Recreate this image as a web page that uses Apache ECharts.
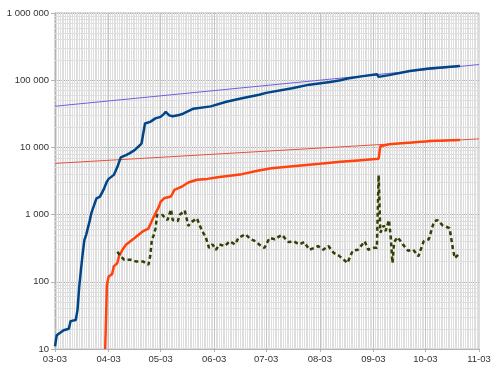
<!DOCTYPE html>
<html><head><meta charset="utf-8">
<script src="https://cdn.jsdelivr.net/npm/echarts@6/dist/echarts.min.js"></script>
<style>html,body{margin:0;padding:0;background:#fff}#c{width:500px;height:374px}</style>
</head><body><div id="c"></div>
<script>
// x-axis tick labels (month ticks)
const tickDates = ['2020-03-03','2020-04-03','2020-05-03','2020-06-03','2020-07-03','2020-08-03','2020-09-03','2020-10-03','2020-11-03'];
const yTicks = [10, 100, 1000, 10000, 100000, 1000000];

// cumulative (blue)
const blueDates = ['2020-03-03','2020-03-04','2020-03-05','2020-03-08','2020-03-11','2020-03-12','2020-03-15','2020-03-16','2020-03-17','2020-03-18','2020-03-19','2020-03-20','2020-03-21','2020-03-22','2020-03-23','2020-03-24','2020-03-25','2020-03-27','2020-03-29','2020-03-31','2020-04-02','2020-04-03','2020-04-06','2020-04-08','2020-04-10','2020-04-13','2020-04-15','2020-04-18','2020-04-22','2020-04-23','2020-04-24','2020-04-27','2020-04-30','2020-05-03','2020-05-05','2020-05-06','2020-05-08','2020-05-10','2020-05-13','2020-05-16','2020-05-22','2020-06-01','2020-06-10','2020-06-19','2020-06-29','2020-07-03','2020-07-18','2020-07-28','2020-08-09','2020-08-15','2020-08-19','2020-08-28','2020-09-05','2020-09-06','2020-09-12','2020-09-24','2020-10-05','2020-10-23'];
const blueValues = [11,16,17,19,20,26,27,38,85,150,265,420,500,530,800,1050,1250,1750,1850,2330,3100,3400,3900,5100,7100,7700,8150,9100,11400,11600,22700,24000,27000,28500,31500,33800,30000,29000,30000,31700,37600,40800,47700,53900,60900,64800,76000,85900,94000,100000,106000,115000,123000,112000,119000,137000,149000,163000];

// cumulative (red)
const redDates = ['2020-04-01','2020-04-02','2020-04-03','2020-04-05','2020-04-06','2020-04-08','2020-04-09','2020-04-11','2020-04-13','2020-04-18','2020-04-23','2020-04-26','2020-04-27','2020-04-29','2020-04-30','2020-05-02','2020-05-03','2020-05-05','2020-05-09','2020-05-11','2020-05-15','2020-05-19','2020-05-24','2020-05-30','2020-06-05','2020-06-19','2020-06-28','2020-07-06','2020-07-20','2020-08-03','2020-08-15','2020-08-25','2020-09-04','2020-09-06','2020-09-07','2020-09-12','2020-09-25','2020-10-05','2020-10-23'];
const redValues = [10,90,120,130,170,190,240,300,357,450,570,620,640,920,975,1300,1550,1750,1860,2330,2580,3000,3300,3400,3600,4000,4500,4900,5300,5700,6100,6400,6700,6800,10400,11100,11800,12400,12900];

// daily (dashed)
const dailyDates = ['2020-04-08','2020-04-10','2020-04-12','2020-04-16','2020-04-19','2020-04-23','2020-04-26','2020-04-27','2020-04-28','2020-04-29','2020-04-30','2020-05-01','2020-05-04','2020-05-07','2020-05-09','2020-05-10','2020-05-13','2020-05-14','2020-05-17','2020-05-19','2020-05-21','2020-05-24','2020-05-27','2020-05-29','2020-05-31','2020-06-02','2020-06-04','2020-06-06','2020-06-09','2020-06-12','2020-06-15','2020-06-17','2020-06-21','2020-06-24','2020-06-27','2020-06-30','2020-07-02','2020-07-05','2020-07-08','2020-07-12','2020-07-16','2020-07-19','2020-07-22','2020-07-25','2020-07-28','2020-07-31','2020-08-02','2020-08-05','2020-08-08','2020-08-11','2020-08-14','2020-08-17','2020-08-19','2020-08-22','2020-08-25','2020-08-29','2020-08-31','2020-09-03','2020-09-05','2020-09-06','2020-09-07','2020-09-09','2020-09-10','2020-09-12','2020-09-13','2020-09-14','2020-09-15','2020-09-17','2020-09-20','2020-09-23','2020-09-26','2020-09-29','2020-10-02','2020-10-05','2020-10-08','2020-10-10','2020-10-13','2020-10-17','2020-10-19','2020-10-20','2020-10-23'];
const dailyValues = [280,240,212,212,200,200,180,240,430,490,610,990,990,830,1200,830,800,990,1150,680,780,880,570,470,320,360,300,360,340,400,360,450,510,430,400,340,320,450,430,500,390,400,360,390,300,320,340,300,340,270,245,212,190,290,300,400,300,320,320,3870,540,690,570,830,460,190,390,460,360,290,300,240,400,430,790,830,690,630,300,225,270];

// trend lines (thin)
const trendDates = ['2020-03-03','2020-11-03'];
const blueTrendValues = [41000, 171000];
const redTrendValues = [5780, 13400];

function t(s){const p=s.split('-').map(Number);return Date.UTC(p[0],p[1]-1,p[2]);}
function pairs(d,v){return d.map((x,i)=>[t(x),v[i]]);}
const xMin = t(tickDates[0]), xMax = t(tickDates[tickDates.length-1]);
const DAY = 86400000;
const minorY = [];
yTicks.slice(0,-1).forEach(b=>{for(let k=2;k<=9;k++) minorY.push({yAxis:b*k});});
const monthLines = tickDates.slice(1,-1).map(d=>({xAxis:t(d)}));
const fmtNum = v => String(v).replace(/\B(?=(\d{3})+(?!\d))/g,' ');
const pad = n => (n<10?'0':'')+n;

const chart = echarts.init(document.getElementById('c'), null, {renderer:'canvas'});
chart.setOption({
  animation:false,
  backgroundColor:'#ffffff',
  grid:{left:55,right:21,top:13,bottom:25,show:true,borderColor:'#b3b3b3',borderWidth:1,backgroundColor:'#ffffff',z:0},
  xAxis:[{
    type:'value',min:xMin,max:xMax,z:0,
    axisLine:{lineStyle:{color:'#b3b3b3'}},
    axisTick:{show:true,length:3,lineStyle:{color:'#b3b3b3'},customValues:tickDates.map(t)},
    axisLabel:{customValues:tickDates.map(t),margin:5,fontSize:9.5,fontFamily:'Liberation Sans',color:'#333',
      formatter:v=>{const d=new Date(v);return pad(d.getUTCMonth()+1)+'-'+pad(d.getUTCDate());}},
    splitLine:{show:false}
  },{
    type:'value',min:xMin,max:xMax,interval:DAY,position:'bottom',z:0,
    axisLine:{show:false},axisTick:{show:false},axisLabel:{show:false},
    splitLine:{show:true,lineStyle:{color:'#dedede',width:1}}
  }],
  yAxis:{
    type:'log',logBase:10,min:10,max:1000000,z:0,
    axisLine:{show:true,lineStyle:{color:'#b3b3b3'}},
    axisTick:{show:true,length:4,lineStyle:{color:'#b3b3b3'}},
    axisLabel:{margin:6,fontSize:9.5,fontFamily:'Liberation Sans',color:'#333',formatter:v=>fmtNum(Math.round(v))},
    splitLine:{show:true,lineStyle:{color:'#b3b3b3'}},
    minorTick:{show:false},minorSplitLine:{show:false}
  },
  series:[
    {name:'blueTrend',type:'line',data:pairs(trendDates,blueTrendValues),showSymbol:false,zlevel:1,z:2,
      lineStyle:{color:'#6c60e0',width:1},
      markLine:{silent:true,symbol:'none',label:{show:false},animation:false,
        lineStyle:{color:'#dedede',width:1,type:'solid'},data:minorY}},
    {name:'redTrend',type:'line',data:pairs(trendDates,redTrendValues),showSymbol:false,zlevel:1,z:2,
      lineStyle:{color:'#e6503c',width:1},
      markLine:{silent:true,symbol:'none',label:{show:false},animation:false,
        lineStyle:{color:'#c4c4c4',width:1,type:'solid'},data:monthLines}},
    {name:'blue',type:'line',data:pairs(blueDates,blueValues),showSymbol:false,zlevel:1,z:5,
      lineStyle:{color:'#004586',width:2.5}},
    {name:'red',type:'line',data:pairs(redDates,redValues),showSymbol:false,zlevel:1,z:5,
      lineStyle:{color:'#ff420e',width:2.5}},
    {name:'daily',type:'line',data:pairs(dailyDates,dailyValues),showSymbol:false,zlevel:1,z:6,
      lineStyle:{color:'#314004',width:2.5,type:[4,3]}}
  ]
});
</script></body></html>
